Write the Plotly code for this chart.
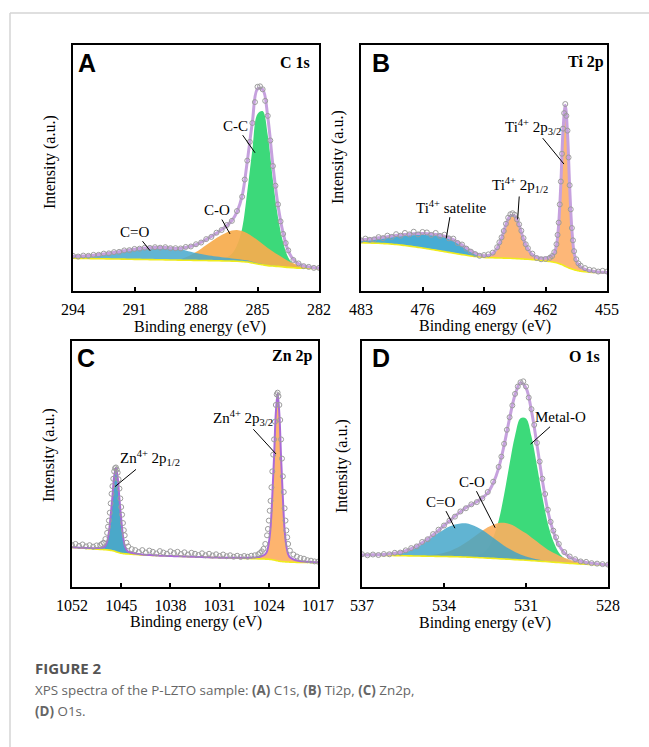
import plotly.graph_objects as go

# ---------------- Panel A : C 1s ----------------
E_A = [294, 293.75, 293.5, 293.25, 293, 292.75, 292.5, 292.25, 292, 291.75, 291.5, 291.25,
       291, 290.75, 290.5, 290.25, 290, 289.75, 289.5, 289.25, 289, 288.75, 288.5, 288.25,
       288, 287.75, 287.5, 287.25, 287, 286.75, 286.5, 286.25, 286, 285.75, 285.5, 285.25,
       285, 284.75, 284.5, 284.25, 284, 283.75, 283.5, 283.25, 283, 282.75, 282.5, 282.25, 282]
bg_A = [13.3, 13.26, 13.23, 13.19, 13.16, 13.12, 13.09, 13.05, 13.01, 12.98, 12.94, 12.91,
        12.87, 12.84, 12.8, 12.76, 12.73, 12.69, 12.66, 12.62, 12.59, 12.55, 12.51, 12.48,
        12.44, 12.41, 12.37, 12.34, 12.3, 12.25, 12.2, 12.15, 12.1, 11.95, 11.8, 11.4,
        11.0, 10.65, 10.3, 10.15, 10.0, 9.8, 9.6, 9.45, 9.3, 9.25, 9.2, 9.15, 9.1]
cc_A = [0] * 28 + [0.3, 0.7, 1.5, 3.0, 6.5, 13.5, 28.5, 46, 61, 62.5, 53, 35, 20, 10, 4, 1.5,
                   0.5, 0.2, 0.1, 0, 0]
co_A = [0] * 21 + [0.4, 1.2, 2.2, 3.4, 4.8, 6.3, 7.8, 9.2, 10.5, 11.6, 12.4, 12.7, 12.4, 11.7,
                   10.8, 9.7, 8.5, 7.2, 5.9, 4.7, 3.6, 2.6, 1.8, 1.2, 0.8, 0.5, 0.3, 0.2]
cdo_A = [0.8, 0.9, 1.0, 1.2, 1.4, 1.7, 2.0, 2.3, 2.6, 3.0, 3.4, 3.8, 4.1, 4.4, 4.7, 4.85, 4.95,
         5.0, 5.0, 4.9, 4.7, 4.4, 4.0, 3.5, 3.0, 2.6, 2.3, 2.0, 1.7, 1.5, 1.3, 1.1, 0.9, 0.8,
         0.65, 0.5, 0.4, 0.3, 0.25, 0.2, 0.15, 0.1, 0.08, 0.05, 0.03, 0, 0, 0, 0]
meas_A = [14.3, 14.0, 14.4, 14.3, 14.7, 14.7, 15.2, 15.3, 15.8, 15.9, 16.5, 16.6, 17.1, 17.2,
          17.6, 17.5, 17.8, 17.6, 17.8, 17.4, 17.4, 17.3, 17.9, 18.1, 19.0, 19.7, 21.1, 22.0,
          23.7, 24.8, 26.8, 28.5, 32.5, 38.3, 53.0, 68.3, 83.0, 82.0, 71.2, 50.8, 35.2, 23.2,
          16.5, 12.6, 11.2, 10.1, 9.8, 9.4, 9.4]
# extra measured points read on the steep flanks
Ex_A = [285.625, 285.375, 285.125, 284.875, 284.625, 284.375, 284.125, 283.875, 283.625]
mx_A = [45.3, 60.6, 76.8, 83.2, 77.3, 61.2, 42.8, 28.3, 19.5]
ticks_A = [294, 291, 288, 285, 282]

# ---------------- Panel B : Ti 2p ----------------
E_B = [483, 482.5, 482, 481.5, 481, 480.5, 480, 479.5, 479, 478.5, 478, 477.5, 477, 476.5, 476,
       475.5, 475, 474.5, 474, 473.5, 473, 472.5, 472, 471.5, 471, 470.5, 470, 469.5, 469,
       468.5, 468, 467.5, 467, 466.5, 466, 465.5, 465, 464.5, 464, 463.5, 463, 462.5, 462,
       461.5, 461.25, 461, 460.75, 460.5, 460.25, 460, 459.75, 459.5, 459.25, 459, 458.75,
       458.5, 458.25, 458, 457.5, 457, 456.5, 456, 455.5, 455]
bg_B = [19.6, 19.55, 19.5, 19.45, 19.4, 19.3, 19.2, 19.05, 18.9, 18.7, 18.5, 18.25, 18.0, 17.75,
        17.5, 17.2, 16.9, 16.6, 16.3, 16.0, 15.7, 15.4, 15.1, 14.8, 14.5, 14.25, 14.0, 13.8,
        13.65, 13.55, 13.5, 13.45, 13.4, 13.35, 13.3, 13.2, 13.1, 13.0, 12.9, 12.75, 12.6, 12.4,
        12.2, 12.0, 11.85, 11.7, 11.45, 11.2, 10.85, 10.5, 10.05, 9.6, 9.25, 8.9, 8.65, 8.4, 8.2,
        8.0, 7.8, 7.65, 7.55, 7.5, 7.45, 7.4]
sat_B = [1.2, 1.4, 1.6, 1.9, 2.2, 2.5, 2.9, 3.3, 3.7, 4.1, 4.5, 4.9, 5.3, 5.6, 5.9, 6.1, 6.3,
         6.4, 6.4, 6.3, 6.0, 5.5, 4.8, 3.9, 3.0, 2.1, 1.4, 0.8, 0.4, 0.2, 0.1] + [0] * 33
p12_B = [0] * 27 + [0.1, 0.3, 0.7, 1.7, 4.0, 8.0, 13.6, 17.3, 17.3, 13.6, 8.0, 4.0, 1.7, 0.7,
                    0.3, 0.15, 0.1] + [0] * 20
p32_B = [0] * 38 + [0.2, 0.3, 0.4, 0.6, 1.0, 1.8, 2.5, 3.8, 7, 16, 33, 55, 65.5, 55, 33, 16, 7,
                    3.8, 2.5, 1.8, 1.0, 0.6, 0.4, 0.25, 0.15, 0.1]
meas_B = [20.6, 21.3, 20.8, 21.0, 21.9, 21.5, 22.5, 22.0, 23.1, 22.5, 23.6, 23.0, 24.1, 23.0,
          24.0, 23.8, 22.8, 23.6, 22.4, 22.9, 21.4, 21.3, 19.5, 18.9, 17.2, 16.0, 15.0, 14.3,
          14.6, 14.9, 15.6, 17.8, 21.8, 27.3, 31.2, 31.0, 27.1, 21.5, 17.4, 15.2, 13.4, 12.9,
          13.0, 13.5, 14.2, 15.8, 19.0, 27.8, 44.5, 66.0, 76.0, 65.2, 43.0, 25.6, 16.2, 12.9,
          11.2, 10.3, 9.3, 8.6, 8.4, 7.9, 8.2, 7.9]
Ex_B = [467.25, 466.75, 466.25, 465.75, 465.25, 464.75, 464.25,
        460.625, 460.375, 460.125, 459.875, 459.625, 459.375, 459.125, 458.875]
mx_B = [19.8, 24.4, 29.8, 31.6, 29.1, 24.5, 19.0,
        22.8, 35.2, 55.8, 72.3, 71.2, 54.3, 33.2, 20.6]
ticks_B = [483, 476, 469, 462, 455]

# ---------------- Panel C : Zn 2p ----------------
E_C = [1052, 1051.5, 1051, 1050.5, 1050, 1049.5, 1049, 1048.5, 1048,
       1047.75, 1047.5, 1047.25, 1047, 1046.75, 1046.5, 1046.25, 1046, 1045.75, 1045.5,
       1045.25, 1045, 1044.75, 1044.5, 1044.25, 1044,
       1043.5, 1043, 1042.5, 1042, 1041.5, 1041, 1040.5, 1040, 1039.5, 1039, 1038.5, 1038,
       1037.5, 1037, 1036.5, 1036, 1035.5, 1035, 1034.5, 1034, 1033.5, 1033, 1032.5, 1032,
       1031.5, 1031, 1030.5, 1030, 1029.5, 1029, 1028.5, 1028, 1027.5, 1027, 1026.5, 1026,
       1025.5,
       1025.25, 1025, 1024.75, 1024.5, 1024.25, 1024, 1023.75, 1023.5, 1023.25, 1023, 1022.75,
       1022.5, 1022.25, 1022, 1021.75, 1021.5, 1021.25, 1021,
       1020.5, 1020, 1019.5, 1019, 1018.5, 1018, 1017.5, 1017]
bg_C = [16.1, 16.0, 15.9, 15.8, 15.7, 15.6, 15.5, 15.4, 15.3,
        15.25, 15.2, 15.15, 15.1, 15.0, 14.9, 14.75, 14.6, 14.35, 14.1, 13.9, 13.7, 13.6, 13.5,
        13.45, 13.4,
        13.3, 13.2, 13.1, 13.0, 12.95, 12.9, 12.85, 12.8, 12.75, 12.7, 12.65, 12.6, 12.55, 12.5,
        12.45, 12.4, 12.35, 12.3, 12.25, 12.2, 12.15, 12.1, 12.05, 12.0, 11.97, 11.95, 11.92,
        11.9, 11.85, 11.8, 11.75, 11.7, 11.65, 11.6, 11.55, 11.5, 11.45,
        11.42, 11.4, 11.37, 11.35, 11.32, 11.3, 11.2, 11.1, 10.95, 10.8, 10.65, 10.5, 10.4, 10.3,
        10.25, 10.2, 10.15, 10.1,
        10.05, 10.0, 10.0, 9.97, 9.95, 9.93, 9.92, 9.9]
p12_C = [0.06, 0.08, 0.1, 0.13, 0.18, 0.25, 0.3, 0.42, 0.65,
         0.8, 1.0, 1.7, 3.4, 7.2, 14, 21.8, 30.4, 34, 30.4, 21.8, 14, 7.2, 3.4, 1.7, 1.0,
         0.65, 0.42, 0.3, 0.25, 0.18, 0.13, 0.1, 0.08] + [0] * 29 + [0] * 26
p32_C = [0] * 25 + [0] * 29 + [0.1, 0.14, 0.18, 0.22, 0.3, 0.4, 0.5, 0.75] + \
        [0.9, 1.2, 1.5, 2.0, 3.2, 6.5, 13, 26, 42, 60, 68, 60, 42, 26, 13, 6.5, 3.2, 2.0] + \
        [1.2, 0.75, 0.5, 0.4, 0.3, 0.22, 0.18, 0.14]
meas_C = [17.0, 17.5, 16.7, 17.3, 16.5, 17.0, 16.4, 16.9, 17.0,
          17.5, 18.0, 19.5, 22.0, 27.0, 34.0, 41.0, 47.0, 48.6, 46.5, 40.0, 32.5, 26.0, 21.0,
          18.0, 16.5,
          15.4, 15.0, 14.2, 15.0, 14.0, 14.8, 14.3, 13.6, 14.6, 14.0, 13.5, 14.5, 13.8, 14.3,
          13.4, 14.1, 13.2, 13.9, 13.5, 13.0, 13.7, 12.9, 13.5, 12.8, 13.3, 12.6, 13.2, 12.5,
          12.9, 12.3, 12.7, 12.2, 12.6, 12.3, 12.7, 12.9, 13.3,
          13.8, 14.5, 15.5, 17.5, 21.0, 27.0, 35.0, 47.0, 60.0, 74.0, 79.0, 74.0, 60.0, 45.0,
          32.0, 23.0, 17.5, 14.8,
          13.2, 12.4, 11.8, 11.5, 10.9, 10.7, 10.4, 10.3]
Ex_C = [1046.875, 1046.625, 1046.375, 1046.125, 1045.875, 1045.625, 1045.375, 1045.125,
        1044.875, 1044.625,
        1024.125, 1023.875, 1023.625, 1023.375, 1023.125, 1022.875, 1022.625, 1022.375,
        1022.125, 1021.875, 1021.625, 1021.375]
mx_C = [24.5, 30.2, 37.9, 44.0, 48.3, 47.7, 43.8, 36.0, 29.4, 23.1,
        23.6, 31.0, 40.5, 53.8, 67.2, 78.3, 77.6, 67.9, 52.2, 38.6, 27.0, 20.2]
ticks_C = [1052, 1045, 1038, 1031, 1024, 1017]

# ---------------- Panel D : O 1s ----------------
E_D = [537.0, 536.8, 536.6, 536.4, 536.2, 536.0, 535.8, 535.6, 535.4, 535.2, 535.0, 534.8,
       534.6, 534.4, 534.2, 534.0, 533.8, 533.6, 533.4, 533.2, 533.0, 532.8, 532.6, 532.4,
       532.2, 532.0, 531.8, 531.6, 531.4, 531.2, 531.0, 530.8, 530.6, 530.4, 530.2, 530.0,
       529.8, 529.6, 529.4, 529.2, 529.0, 528.8, 528.6, 528.4, 528.2, 528.0]
bg_D = [13.0, 12.96, 12.92, 12.88, 12.84, 12.8, 12.76, 12.72, 12.68, 12.64, 12.6, 12.56, 12.52,
        12.48, 12.44, 12.4, 12.35, 12.3, 12.23, 12.17, 12.1, 11.98, 11.86, 11.74, 11.62, 11.5,
        11.38, 11.26, 11.14, 11.0, 10.9, 10.74, 10.58, 10.42, 10.26, 10.1, 9.94, 9.78, 9.62,
        9.48, 9.35, 9.25, 9.15, 9.05, 8.97, 8.9]
mo_D = [0] * 15 + [0.1, 0.15, 0.2, 0.3, 0.4, 0.6, 1.0, 2.0, 4.1, 8.5, 15.5, 26.2, 38.8, 50.4,
                   57.6, 57.6, 50.4, 38.8, 26.2, 15.5, 8.5, 4.1, 2.0, 1.0, 0.6, 0.4, 0.3, 0.2,
                   0.15, 0.1, 0.08]
co_D = [0] * 8 + [0.04, 0.07, 0.12, 0.2, 0.36, 0.6, 0.96, 1.5, 2.2, 3.2, 4.4, 5.9, 7.5, 9.3,
                  11.0, 12.5, 13.7, 14.5, 14.7, 14.35, 13.5, 12.2, 10.9, 9.4, 7.9, 6.3, 4.9, 3.8,
                  2.9, 2.1, 1.5, 1.0, 0.7, 0.45, 0.3, 0.2, 0.12, 0.08]
cdo_D = [0.05, 0.09, 0.14, 0.23, 0.38, 0.6, 0.93, 1.4, 2.0, 2.9, 3.9, 5.2, 6.6, 8.1, 9.6, 11.0,
         12.2, 13.1, 13.6, 13.7, 13.25, 12.4, 11.3, 9.9, 8.4, 6.85, 5.4, 4.2, 3.1, 2.2, 1.5,
         1.0, 0.66, 0.4, 0.25, 0.15, 0.09, 0.05] + [0] * 8
meas_D = [13.3, 12.9, 13.2, 13.0, 13.4, 13.3, 13.9, 14.0, 14.9, 15.8, 16.5, 18.3, 19.4, 21.5,
          23.3, 25.0, 27.0, 28.6, 30.7, 32.0, 33.6, 34.5, 36.0, 38.6, 42.8, 48.8, 58.2, 69.0,
          78.5, 83.2, 81.5, 72.3, 58.6, 44.0, 31.4, 22.9, 17.5, 14.2, 12.4, 11.3, 10.4, 10.2,
          9.7, 9.5, 9.3, 9.1]
Ex_D = [531.9, 531.7, 531.5, 531.3, 531.1, 530.9, 530.7, 530.5, 530.3, 530.1, 529.9]
mx_D = [53.0, 63.9, 73.8, 81.5, 83.6, 77.0, 65.9, 51.0, 37.8, 26.5, 20.2]
ticks_D = [537, 534, 531, 528]

# ---------------- Figure ----------------
W, H = 649, 747
SERIF = "Liberation Serif, Times New Roman, serif"
SANS = "Liberation Sans, Arial, sans-serif"


def xp(v):
    return v / W


def yp(v):
    return 1 - v / H


fig = go.Figure()

panels = [
    dict(n=1, E=E_A, bg=bg_A, meas=meas_A, Ex=Ex_A, mx=mx_A, ticks=ticks_A,
         box=(73, 319, 45, 291),
         comps=[(cc_A, "rgba(60,217,122,1)"), (co_A, "rgba(246,172,78,0.93)"),
                (cdo_A, "rgba(70,168,205,0.85)")],
         env="#c6a1de", envw=3),
    dict(n=2, E=E_B, bg=bg_B, meas=meas_B, Ex=Ex_B, mx=mx_B, ticks=ticks_B,
         box=(361, 607, 45, 291),
         comps=[(sat_B, "rgba(62,168,210,0.95)"), (p12_B, "rgba(253,183,120,1)"),
                (p32_B, "rgba(253,183,120,1)")],
         env="#c6a1de", envw=3),
    dict(n=3, E=E_C, bg=bg_C, meas=meas_C, Ex=Ex_C, mx=mx_C, ticks=ticks_C,
         box=(72, 318, 341, 587),
         comps=[(p12_C, "rgba(74,168,201,1)"), (p32_C, "rgba(253,180,111,1)")],
         env="#a96ad8", envw=2),
    dict(n=4, E=E_D, bg=bg_D, meas=meas_D, Ex=Ex_D, mx=mx_D, ticks=ticks_D,
         box=(362, 608, 341, 587),
         comps=[(mo_D, "rgba(60,218,122,1)"), (co_D, "rgba(250,176,96,0.92)"),
                (cdo_D, "rgba(62,164,200,0.82)")],
         env="#c6a1de", envw=3),
]

for p in panels:
    n = p["n"]
    xa = "x" if n == 1 else f"x{n}"
    ya = "y" if n == 1 else f"y{n}"
    E, bg = p["E"], p["bg"]
    env = list(bg)
    for vals, col in p["comps"]:
        top = [b + v for b, v in zip(bg, vals)]
        env = [e + v for e, v in zip(env, vals)]
        fig.add_trace(go.Scatter(x=E, y=bg, mode="lines", line=dict(width=0, shape="spline"),
                                 xaxis=xa, yaxis=ya, showlegend=False, hoverinfo="skip"))
        fig.add_trace(go.Scatter(x=E, y=top, mode="lines", fill="tonexty", fillcolor=col,
                                 line=dict(width=0, shape="spline"),
                                 xaxis=xa, yaxis=ya, showlegend=False, hoverinfo="skip"))
    fig.add_trace(go.Scatter(x=E, y=bg, mode="lines",
                             line=dict(color="#f0ec1c", width=1.6, shape="spline"),
                             xaxis=xa, yaxis=ya, showlegend=False))
    fig.add_trace(go.Scatter(x=E, y=env, mode="lines",
                             line=dict(color=p["env"], width=p["envw"], shape="spline"),
                             xaxis=xa, yaxis=ya, showlegend=False))
    fig.add_trace(go.Scatter(x=list(E) + p["Ex"], y=list(p["meas"]) + p["mx"], mode="markers",
                             marker=dict(symbol="circle-open", size=5, color="#9c9c9c",
                                         line=dict(width=1)),
                             xaxis=xa, yaxis=ya, showlegend=False))
    x0, x1, y0, y1 = p["box"]
    xkey = "xaxis" if n == 1 else f"xaxis{n}"
    ykey = "yaxis" if n == 1 else f"yaxis{n}"
    fig.layout[xkey] = dict(domain=[xp(x0), xp(x1)], range=[E[0], E[-1]], anchor=ya,
                            tickmode="array", tickvals=p["ticks"],
                            ticks="inside", ticklen=4, tickwidth=1.5, tickcolor="black",
                            showline=True, linecolor="black", linewidth=2, mirror=True,
                            showgrid=False, zeroline=False, ticklabelstandoff=3,
                            tickfont=dict(family=SERIF, size=16, color="black"))
    fig.layout[ykey] = dict(domain=[yp(y1), yp(y0)], range=[0, 100], anchor=xa,
                            showticklabels=False, ticks="", showline=True, linecolor="black",
                            linewidth=2, mirror=True, showgrid=False, zeroline=False)

ann = []


def arrow(n, text, tx, ty, hx, hy):
    xa = "x" if n == 1 else f"x{n}"
    ya = "y" if n == 1 else f"y{n}"
    ann.append(dict(x=hx, y=hy, ax=tx, ay=ty, xref=xa, yref=ya, axref=xa, ayref=ya,
                    text=text, showarrow=True, arrowhead=0, arrowwidth=1, arrowcolor="black",
                    font=dict(family=SERIF, size=15, color="black")))


arrow(1, "C-C", 286.05, 67.2, 285.12, 56.2)
arrow(1, "C-O", 287.0, 32.9, 286.34, 23.2)
arrow(1, "C=O", 290.98, 24.1, 290.24, 16.4)
arrow(2, "Ti<sup>4+</sup> 2p<sub>3/2</sub>", 463.39, 66.8, 459.9, 51.6)
arrow(2, "Ti<sup>4+</sup> 2p<sub>1/2</sub>", 464.9, 43.1, 465.17, 29.1)
arrow(2, "Ti<sup>4+</sup> satelite", 472.68, 34.3, 473.3, 21.4)
arrow(3, "Zn<sup>4+</sup> 2p<sub>3/2</sub>", 1027.7, 68.8, 1022.98, 54.1)
arrow(3, "Zn<sup>4+</sup> 2p<sub>1/2</sub>", 1040.9, 52.5, 1045.88, 40.8)
arrow(4, "Metal-O", 529.73, 69.0, 530.83, 58.1)
arrow(4, "C-O", 532.99, 42.8, 532.13, 24.1)
arrow(4, "C=O", 534.11, 34.7, 533.6, 23.9)


def txt(text, x, y, xanchor="center", font=None, angle=0):
    ann.append(dict(text=text, x=xp(x), y=yp(y), xref="paper", yref="paper",
                    xanchor=xanchor, yanchor="middle", showarrow=False, textangle=angle,
                    font=font))


letter_font = dict(family=SANS, size=25, color="black", weight="bold")
title_font = dict(family=SERIF, size=16, color="black", weight="bold")
axis_font = dict(family=SERIF, size=16, color="black")

txt("A", 87, 63, font=letter_font)
txt("B", 381, 63, font=letter_font)
txt("C", 86, 358, font=letter_font)
txt("D", 381, 358, font=letter_font)
txt("C 1s", 312, 63, "right", title_font)
txt("Ti 2p", 606, 62, "right", title_font)
txt("Zn 2p", 315, 356, "right", title_font)
txt("O 1s", 602, 357, "right", title_font)

for cx, cy in [(200, 327), (485, 326), (196, 622), (485, 623)]:
    txt("Binding energy (eV)", cx, cy, font=axis_font)
for cx, cy in [(50, 162), (338, 157), (49, 455), (342, 466)]:
    txt("Intensity (a.u.)", cx, cy, font=axis_font, angle=-90)

cap_family = "Open Sans, Noto Sans, sans-serif"
txt("<b>FIGURE 2</b>", 33, 668, "left", dict(family=cap_family, size=15, color="#555555"))
txt("XPS spectra of the P-LZTO sample: <b>(A)</b> C1s, <b>(B)</b> Ti2p, <b>(C)</b> Zn2p,",
    33, 690, "left", dict(family=cap_family, size=13.4, color="#666666"))
txt("<b>(D)</b> O1s.", 33, 711, "left", dict(family=cap_family, size=13.4, color="#666666"))

shapes = [
    dict(type="line", xref="paper", yref="paper", x0=xp(10), x1=1, y0=yp(13), y1=yp(13),
         line=dict(color="#d4d4d4", width=1.5)),
    dict(type="line", xref="paper", yref="paper", x0=xp(10), x1=xp(10), y0=yp(13), y1=0,
         line=dict(color="#d4d4d4", width=1.5)),
]

fig.update_layout(width=W, height=H, margin=dict(l=0, r=0, t=0, b=0, autoexpand=False),
                  paper_bgcolor="white", plot_bgcolor="white",
                  annotations=ann, shapes=shapes, showlegend=False)

fig.write_html("out.html", config={"displayModeBar": False},
               post_script="document.body.style.margin='0px';"
                           "document.body.style.overflow='hidden';")
